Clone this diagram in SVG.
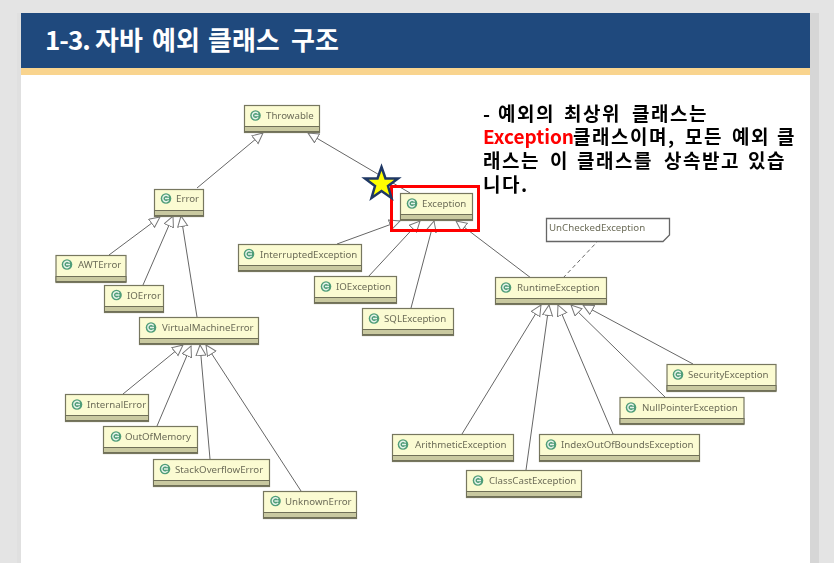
<svg xmlns="http://www.w3.org/2000/svg" width="834" height="563" viewBox="0 0 834 563">
<style>
.n{fill:#fbfbd2;stroke:#77775f;stroke-width:1.2}
.b{fill:#c9c9a0;stroke:#6f6f58;stroke-width:1}
.l{font:9.7px "Noto Sans",sans-serif;fill:#6c6c58;transform:translateY(-0.7px)}
.c{stroke:#666;stroke-width:1;fill:none}
.k{font:bold 19px "Noto Sans CJK KR","Noto Sans",sans-serif;fill:#000;letter-spacing:1.5px}
.t{font:bold 26px "Noto Sans CJK KR","Noto Sans",sans-serif;fill:#fff}
</style>
<defs>
<marker id="h" markerUnits="userSpaceOnUse" markerWidth="14" markerHeight="12" refX="11" refY="5.5" orient="auto"><path d="M0.5 0.5L11 5.5L0.5 10.5Z" fill="#fff" stroke="#777"/></marker>
<g id="i"><circle r="5.300" fill="#4f9d78"/><path d="M2.600-1.900A3.200 3.200 0 1 0 2.600 1.900M-1 0H3" fill="none" stroke="#e6f3ea" stroke-width="1.400"/></g>
<filter id="s" x="-5%" y="-5%" width="110%" height="110%"><feGaussianBlur stdDeviation="0.45"/></filter>
</defs>
<rect width="834" height="563" fill="#e4e4e4"/>
<rect x="810" y="13" width="9" height="550" fill="#d6d6d6"/>
<rect x="17" y="13" width="4" height="550" fill="#e0e0e0"/>
<rect x="21" y="13" width="789" height="550" fill="#fff"/>
<rect x="21" y="13" width="789" height="55" fill="#1f497d"/>
<rect x="21" y="68" width="789" height="7" fill="#f9d48e"/>
<text class="t" y="50"><tspan x="45" style="letter-spacing:-1px">1-3. </tspan><tspan x="95">자바 </tspan><tspan x="152">예외 </tspan><tspan x="208">클래스 </tspan><tspan x="291">구조</tspan></text>
<g id="connectors" filter="url(#s)">
<line class="c" marker-end="url(#h)" x1="197" y1="188" x2="263" y2="133"/>
<line class="c" marker-end="url(#h)" x1="410" y1="193" x2="308" y2="133"/>
<line class="c" marker-end="url(#h)" x1="109" y1="255" x2="160" y2="217"/>
<line class="c" marker-end="url(#h)" x1="143" y1="285" x2="173" y2="216"/>
<line class="c" marker-end="url(#h)" x1="197" y1="317" x2="181" y2="216"/>
<line class="c" marker-end="url(#h)" x1="123" y1="394" x2="183" y2="345"/>
<line class="c" marker-end="url(#h)" x1="157" y1="426" x2="191" y2="346"/>
<line class="c" marker-end="url(#h)" x1="210" y1="459" x2="200" y2="345"/>
<line class="c" marker-end="url(#h)" x1="301" y1="491" x2="206" y2="345"/>
<line class="c" marker-end="url(#h)" x1="337" y1="244" x2="400" y2="221"/>
<line class="c" marker-end="url(#h)" x1="368" y1="277" x2="420" y2="221"/>
<line class="c" marker-end="url(#h)" x1="411" y1="308" x2="434" y2="221"/>
<line class="c" marker-end="url(#h)" x1="531" y1="278" x2="456" y2="221"/>
<line class="c" stroke-dasharray="4 3" x1="563" y1="278" x2="597" y2="242"/>
<line class="c" marker-end="url(#h)" x1="462" y1="434" x2="541" y2="305"/>
<line class="c" marker-end="url(#h)" x1="526" y1="470" x2="549" y2="305"/>
<line class="c" marker-end="url(#h)" x1="613" y1="434" x2="558" y2="305"/>
<line class="c" marker-end="url(#h)" x1="665" y1="397" x2="571" y2="305"/>
<line class="c" marker-end="url(#h)" x1="693" y1="364" x2="583" y2="305"/>
</g>
<g filter="url(#s)">
<g id="throwable"><rect class="n" x="244.500" y="105.500" width="75" height="27"/><rect class="b" x="244.500" y="126.500" width="75" height="5"/><use href="#i" x="255.500" y="115.500"/><text class="l" x="266" y="119.500">Throwable</text></g>
<g id="error"><rect class="n" x="154.500" y="189.500" width="49" height="27"/><rect class="b" x="154.500" y="210.500" width="49" height="5"/><use href="#i" x="166" y="198.500"/><text class="l" x="176" y="203">Error</text></g>
<g id="awterror"><rect class="n" x="56" y="255.500" width="70" height="27"/><rect class="b" x="56" y="276.500" width="70" height="5"/><use href="#i" x="67" y="264.500"/><text class="l" x="78" y="269">AWTError</text></g>
<g id="ioerror"><rect class="n" x="104.500" y="285.500" width="59" height="27"/><rect class="b" x="104.500" y="306.500" width="59" height="5"/><use href="#i" x="116.500" y="295"/><text class="l" x="127" y="299.500">IOError</text></g>
<g id="vme"><rect class="n" x="139.500" y="317.500" width="119" height="27"/><rect class="b" x="139.500" y="338.500" width="119" height="5"/><use href="#i" x="151" y="327.500"/><text class="l" x="162" y="331.500">VirtualMachineError</text></g>
<g id="internalerror"><rect class="n" x="65.500" y="394.500" width="83" height="27"/><rect class="b" x="65.500" y="415.500" width="83" height="5"/><use href="#i" x="77" y="404.500"/><text class="l" x="87" y="409">InternalError</text></g>
<g id="outofmemory"><rect class="n" x="103.500" y="426.500" width="94" height="27"/><rect class="b" x="103.500" y="447.500" width="94" height="5"/><use href="#i" x="116" y="436.500"/><text class="l" x="125" y="441">OutOfMemory</text></g>
<g id="stackoverflow"><rect class="n" x="153.500" y="459.500" width="116" height="27"/><rect class="b" x="153.500" y="480.500" width="116" height="5"/><use href="#i" x="165" y="469"/><text class="l" x="175" y="473.500">StackOverflowError</text></g>
<g id="unknownerror"><rect class="n" x="263.500" y="491.500" width="93" height="27"/><rect class="b" x="263.500" y="512.500" width="93" height="5"/><use href="#i" x="275.500" y="501"/><text class="l" x="285" y="505.500">UnknownError</text></g>
<g id="interrupted"><rect class="n" x="238.500" y="244.500" width="123" height="27"/><rect class="b" x="238.500" y="265.500" width="123" height="5"/><use href="#i" x="249" y="254"/><text class="l" x="260" y="259">InterruptedException</text></g>
<g id="ioexception"><rect class="n" x="314.500" y="276.500" width="82" height="27"/><rect class="b" x="314.500" y="297.500" width="82" height="5"/><use href="#i" x="326" y="286.500"/><text class="l" x="336" y="291">IOException</text></g>
<g id="sqlexception"><rect class="n" x="362.500" y="308.500" width="91" height="27"/><rect class="b" x="362.500" y="329.500" width="91" height="5"/><use href="#i" x="374" y="318.500"/><text class="l" x="384" y="323">SQLException</text></g>
<g id="exception"><rect class="n" x="400.500" y="193.500" width="72" height="27"/><rect class="b" x="400.500" y="214.500" width="72" height="5"/><use href="#i" x="412" y="203.500"/><text class="l" x="422" y="208">Exception</text></g>
<g id="runtime"><rect class="n" x="495.500" y="277.500" width="111" height="27"/><rect class="b" x="495.500" y="298.500" width="111" height="5"/><use href="#i" x="506" y="287.500"/><text class="l" x="517" y="292">RuntimeException</text></g>
<g id="unchecked"><path d="M546.500 218.500H669.500V235L663 241.500H546.500Z" fill="#fff" stroke="#666" stroke-width="1.300"/><text class="l" x="549" y="231.500">UnCheckedException</text></g>
<g id="security"><rect class="n" x="667" y="364.500" width="109" height="27"/><rect class="b" x="667" y="385.500" width="109" height="5"/><use href="#i" x="678" y="374.500"/><text class="l" x="688" y="379">SecurityException</text></g>
<g id="nullpointer"><rect class="n" x="620" y="397.500" width="124" height="27"/><rect class="b" x="620" y="418.500" width="124" height="5"/><use href="#i" x="631" y="407.500"/><text class="l" x="642" y="412">NullPointerException</text></g>
<g id="arithmetic"><rect class="n" x="392.500" y="434.500" width="121" height="27"/><rect class="b" x="392.500" y="455.500" width="121" height="5"/><use href="#i" x="403" y="444.500"/><text class="l" x="415" y="449">ArithmeticException</text></g>
<g id="indexoob"><rect class="n" x="539.500" y="434.500" width="160" height="27"/><rect class="b" x="539.500" y="455.500" width="160" height="5"/><use href="#i" x="551" y="444.500"/><text class="l" x="561" y="449">IndexOutOfBoundsException</text></g>
<g id="classcast"><rect class="n" x="466.500" y="470.500" width="115" height="27"/><rect class="b" x="466.500" y="491.500" width="115" height="5"/><use href="#i" x="478" y="480.500"/><text class="l" x="489" y="485">ClassCastException</text></g>
</g>
<rect x="391.500" y="186.500" width="87" height="44" fill="none" stroke="#f00" stroke-width="3"/>
<path id="star" d="M381.500 167L385.500 178.500L398 178.500L388 186L391.500 198L381.500 191L371.500 198L375 186L365 178.500L377.500 178.500Z" fill="#ff0" stroke="#1f3864" stroke-width="2.500" stroke-linejoin="miter"/>
<text class="k"><tspan x="483" y="121">- </tspan><tspan x="498" y="121">예외의 </tspan><tspan x="564" y="121">최상위 </tspan><tspan x="632" y="121">클래스는 </tspan><tspan x="483" y="144" fill="#f00" style="letter-spacing:0">Exception</tspan><tspan x="573" y="144">클래스이며, </tspan><tspan x="685" y="144">모든 </tspan><tspan x="732" y="144">예외 </tspan><tspan x="777" y="144">클 </tspan><tspan x="483" y="168">래스는 </tspan><tspan x="550" y="168">이 </tspan><tspan x="577" y="168">클래스를 </tspan><tspan x="664" y="168">상속받고 </tspan><tspan x="748" y="168">있습 </tspan><tspan x="483" y="192">니다.</tspan></text>
</svg>
